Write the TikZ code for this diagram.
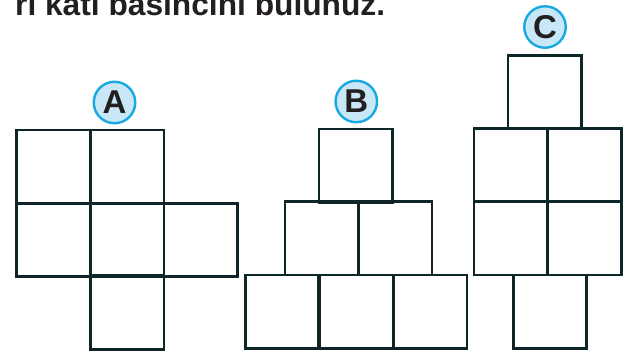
\documentclass[tikz,border=0pt]{standalone}
\usepackage{fontspec}
\setmainfont{Liberation Sans}
\definecolor{txt}{HTML}{231F20}
\definecolor{sqline}{HTML}{0E2628}
\definecolor{cfill}{HTML}{C9E8F7}
\definecolor{cline}{HTML}{19A8E0}
\begin{document}
\begin{tikzpicture}[x=1pt,y=-1pt,
  sq/.style={draw=sqline,line width=2.6pt,inner sep=0pt,minimum width=73.5pt,minimum height=73.5pt},
  lab/.style={circle,draw=cline,fill=cfill,line width=2.4pt,minimum size=41.5pt,inner sep=0pt,
    font=\fontsize{33}{33}\selectfont\bfseries,text=txt}]
\useasboundingbox (0,0) rectangle (634,352);
\node[anchor=base west,inner sep=0pt,text=txt,font=\fontsize{31.7}{32}\selectfont\bfseries] (title) at (15,16) {ri katı basıncını bulunuz.};
% A
\node[sq] (a1) at (53.25,166.75) {};
\node[sq] (a2) at (127.25,166.75) {};
\node[sq] (a3) at (53.25,240) {};
\node[sq] (a4) at (127.25,240) {};
\node[sq] (a5) at (200.75,240) {};
\node[sq] (a6) at (127.25,312.5) {};
\node[lab] (la) at (114.5,102.5) {A};
% B
\node[sq] (b1) at (355.7,165.6) {};
\node[sq] (b2) at (321.7,238.4) {};
\node[sq] (b3) at (395.4,238.4) {};
\node[sq] (b4) at (282,311.7) {};
\node[sq] (b5) at (356.2,311.7) {};
\node[sq] (b6) at (430.3,311.7) {};
\node[lab] (lb) at (356.3,101.5) {B};
% C
\node[sq] (c1) at (544.7,92) {};
\node[sq] (c2) at (510.8,165) {};
\node[sq] (c3) at (584.6,165) {};
\node[sq] (c4) at (510.8,238.4) {};
\node[sq] (c5) at (584.6,238.4) {};
\node[sq] (c6) at (550,311.7) {};
\node[lab] (lc) at (545,27) {C};
\end{tikzpicture}
\end{document}
